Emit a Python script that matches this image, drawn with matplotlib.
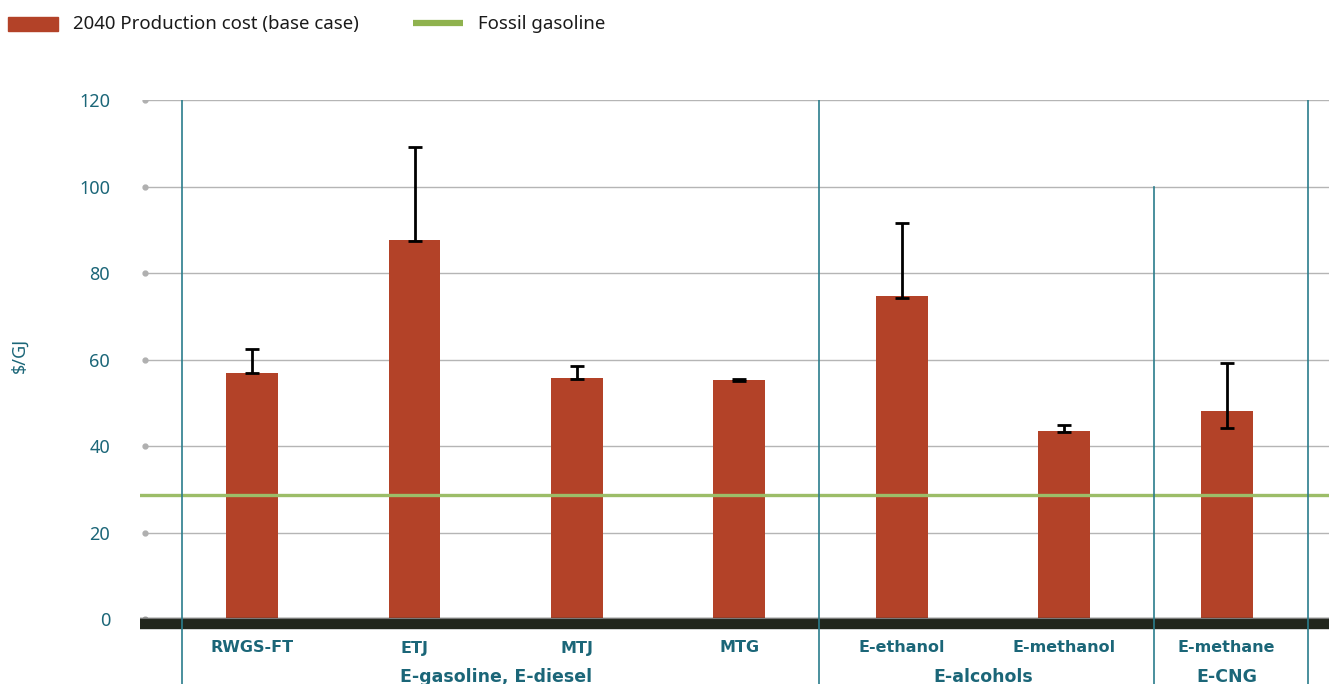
import matplotlib
matplotlib.use("Agg")
import matplotlib.pyplot as plt
from matplotlib.patches import Rectangle
from matplotlib.lines import Line2D
import matplotlib.transforms as mtransforms

categories = ["RWGS-FT", "ETJ", "MTJ", "MTG", "E-ethanol", "E-methanol", "E-methane"]
base_cost = [57.0, 87.7, 55.8, 55.2, 74.8, 43.6, 48.0]
err_low = [56.8, 87.5, 55.4, 55.0, 74.3, 43.2, 44.1]
err_high = [62.5, 109.2, 58.6, 55.4, 91.6, 44.8, 59.1]
fossil_gasoline = 28.8
groups = ["E-gasoline, E-diesel", "E-alcohols", "E-CNG"]
group_members = [[0, 1, 2, 3], [4, 5], [6]]
yticks = [0, 20, 40, 60, 80, 100, 120]

BAR = "#b34228"
GREEN = "#9cbd68"
GREEN_LEG = "#8fb24e"
TEAL = "#1b6678"
DIV = "#2b7d8c"

W, H = 1329, 684
fig = plt.figure(figsize=(W / 100, H / 100), dpi=100)
ax = fig.add_axes([140 / W, 0, 1 - 140 / W, 584 / H])
x = list(range(len(categories)))
ax.set_xlim(-0.69, 6.63)
ax.set_ylim(-15, 120)

# gridlines
for t in yticks:
    ax.plot([-0.66, 6.63], [t, t], color="#b5b5b5", lw=1.0, zorder=1, solid_capstyle="butt")
    ax.plot([-0.66], [t], marker="o", ms=3.5, color="#b0b0b0", zorder=2)

# bars
ax.bar(x, base_cost, width=0.32, color=BAR, zorder=4)
lo = [b - l for b, l in zip(base_cost, err_low)]
hi = [h - b for b, h in zip(base_cost, err_high)]
ax.errorbar(x, base_cost, yerr=[lo, hi], fmt="none", ecolor="black",
            elinewidth=2.0, capsize=5, capthick=2.0, zorder=5)

# fossil line (drawn over bars)
ax.axhline(fossil_gasoline, color=GREEN, lw=2.4, zorder=4.5)

# baseline band
ax.axhline(-0.85, color="#22261c", lw=8.2, zorder=6)
ax.axhline(0.35, color="#7a7a7a", lw=0.8, zorder=6)

# dividers
for xv in [-0.43, 3.49, 6.5]:
    ax.plot([xv, xv], [-15, 120], color=DIV, lw=1.2, zorder=7)
ax.plot([5.55, 5.55], [-15, 100], color=DIV, lw=1.2, zorder=7)

for s in ax.spines.values():
    s.set_visible(False)
ax.set_xticks([])
ax.set_yticks(yticks)
ax.tick_params(axis="y", length=0, pad=21.5, labelsize=13, labelcolor=TEAL)
for lab in ax.get_yticklabels():
    lab.set_fontfamily("Noto Sans")
ax.set_ylabel("$/GJ", color=TEAL, fontsize=13, fontfamily="Noto Sans")
ax.yaxis.set_label_coords(-111 / 1189, 76 / 135)

trans = mtransforms.blended_transform_factory(ax.transData, fig.transFigure)
for xi, c in zip(x, categories):
    ax.text(xi, 1 - 648 / H, c, transform=trans, ha="center", va="center",
            fontsize=11.5, fontweight="bold", color=TEAL, fontfamily="DejaVu Sans")
for g, m in zip(groups, group_members):
    cx = sum(m) / len(m)
    ax.text(cx, 1 - 677 / H, g, transform=trans, ha="center", va="center",
            fontsize=12.5, fontweight="bold", color=TEAL, fontfamily="DejaVu Sans")

# legend
fig.patches.append(Rectangle((8 / W, 1 - 31 / H), 50 / W, 14 / H, transform=fig.transFigure,
                             color=BAR, figure=fig))
fig.lines.append(Line2D([413 / W, 463 / W], [1 - 23 / H, 1 - 23 / H], transform=fig.transFigure,
                        color=GREEN_LEG, lw=4.5, figure=fig, solid_capstyle="butt"))
fig.text(73 / W, 1 - 24 / H, "2040 Production cost (base case)", fontsize=13.4,
         fontfamily="Noto Sans", color="#1a1a1a", va="center", ha="left")
fig.text(478 / W, 1 - 24 / H, "Fossil gasoline", fontsize=13.4,
         fontfamily="Noto Sans", color="#1a1a1a", va="center", ha="left")

fig.savefig("out.png", dpi=100)
